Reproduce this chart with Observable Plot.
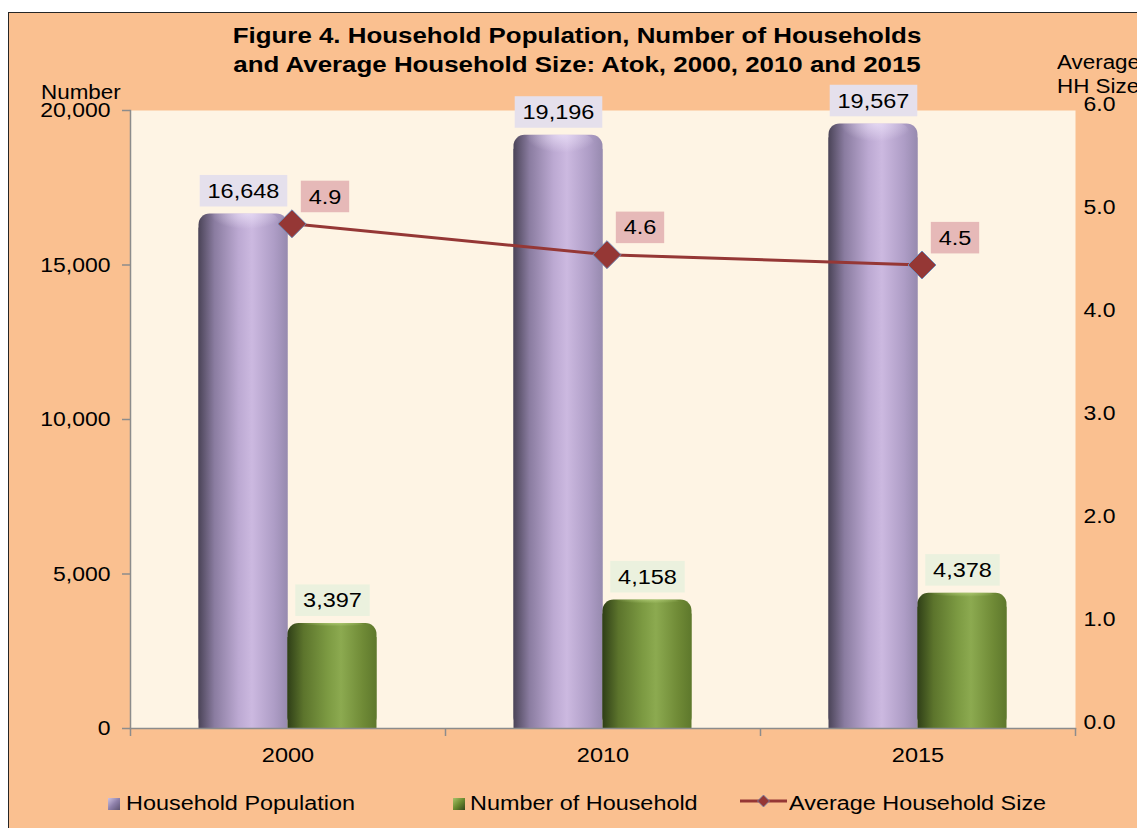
<!DOCTYPE html>
<html>
<head>
<meta charset="utf-8">
<script src="https://cdn.jsdelivr.net/npm/d3@7"></script>
<script src="https://cdn.jsdelivr.net/npm/@observablehq/plot@0.6"></script>
<style>
  html, body { margin: 0; padding: 0; }
  body { width: 1137px; height: 828px; overflow: hidden; position: relative; background: #ffffff;
         font-family: "Liberation Sans", Arial, sans-serif; color: #000; }
  #frame { position: absolute; left: 8px; top: 12px; width: 1140px; height: 830px;
           background: #FAC090; border: 1px solid #262626; box-sizing: border-box; }
  .t { position: absolute; white-space: nowrap; color: #000; transform-origin: 0 0; }
  #title { left: 0; width: 1154px; top: 21px; text-align: center; font-weight: bold; font-size: 22.5px;
           line-height: 29px; transform-origin: 577px 0; }
  #chart { position: absolute; left: 0; top: 0; }
  .leg { position: absolute; top: 793px; font-size: 20px; line-height: 20px; white-space: nowrap; }
  .sw { position: absolute; width: 12px; height: 12px; }
</style>
</head>
<body>
<div id="frame"></div>
<div class="t" id="title">Figure 4. Household Population, Number of Households<br>and Average Household Size: Atok, 2000, 2010 and 2015</div>
<div class="t" id="lblLeft" style="left:41px; top:82px; font-size:20px; line-height:20px;">Number</div>
<div class="t" id="lblRight1" style="left:1057px; top:52px; font-size:20px; line-height:20px;">Average</div>
<div class="t" id="lblRight2" style="left:1057px; top:76px; font-size:20px; line-height:20px;">HH Size</div>
<div id="chart"></div>
<div id="legend"></div>
<script>
// ---- data ----
const years = ["2000", "2010", "2015"];
const householdPopulation = [16648, 19196, 19567];
const numberOfHouseholds = [3397, 4158, 4378];
const averageHouseholdSize = [4.9, 4.6, 4.5];
const leftTickValues = [0, 5000, 10000, 15000, 20000];
const rightTickValues = [0, 1, 2, 3, 4, 5, 6];
const leftMax = 20000;
const rightMax = 6;
const seriesNames = ["Household Population", "Number of Household", "Average Household Size"];

// ---- tables built from the arrays ----
const pop = years.map((year, i) => ({year, value: householdPopulation[i]}));
const hh = years.map((year, i) => ({year, value: numberOfHouseholds[i]}));
const avg = years.map((year, i) => ({year, value: averageHouseholdSize[i], scaled: averageHouseholdSize[i] * leftMax / rightMax}));

const STRETCH = 1.12;
const fmt = d3.format(",");
const BAND = 315; // px width of each year band (945 / 3)
const BAR = 89;

const plot = Plot.plot({
  width: 1137,
  height: 828,
  marginLeft: 130,
  marginRight: 62,
  marginTop: 110,
  marginBottom: 100,
  style: {background: "transparent", fontFamily: "'Liberation Sans', Arial, sans-serif", fontSize: "20.5px", color: "#000", overflow: "visible"},
  x: {domain: years, padding: 0, axis: null},
  y: {domain: [0, leftMax], axis: null},
  marks: [
    Plot.frame({fill: "#FEF4E4", stroke: null}),
    // purple cylinders
    Plot.barY(pop, {x: "year", y: "value", fill: "url(#gPurple)", insetLeft: BAND / 2 - BAR, insetRight: BAND / 2, rx: 11}),
    Plot.barY(pop, {x: "year", y: "value", fill: "url(#gPurple)", insetLeft: BAND / 2 - BAR, insetRight: BAND / 2, insetTop: 14}),
    // green cylinders
    Plot.barY(hh, {x: "year", y: "value", fill: "url(#gGreen)", insetLeft: BAND / 2, insetRight: BAND / 2 - BAR, rx: 11}),
    Plot.barY(hh, {x: "year", y: "value", fill: "url(#gGreen)", insetLeft: BAND / 2, insetRight: BAND / 2 - BAR, insetTop: 14}),
    // soft highlight on the cylinder tops
    Plot.barY(pop, {x: "year", y: "value", fill: "url(#gTop)", insetLeft: BAND / 2 - BAR + 8, insetRight: BAND / 2 + 8, rx: 11, fillOpacity: 0.9}),
    Plot.barY(hh, {x: "year", y: "value", fill: "url(#gTopG)", insetLeft: BAND / 2 + 8, insetRight: BAND / 2 - BAR + 8, rx: 11, fillOpacity: 0.9}),
    // axis lines
    Plot.frame({anchor: "left", stroke: "#8C8C8C", strokeWidth: 1.5}),
    Plot.frame({anchor: "bottom", stroke: "#8C8C8C", strokeWidth: 1.5}),
    // left axis
    Plot.axisY({ticks: leftTickValues, tickFormat: fmt, tickSize: 8, tickPadding: 12, stroke: "#8C8C8C", strokeWidth: 1.5, label: null, fontSize: 20.5}),
    // right axis (secondary scale 0–6 drawn on the same y)
    Plot.axisY({anchor: "right", ticks: rightTickValues.map(v => v * leftMax / rightMax),
                tickFormat: d => (d * rightMax / leftMax).toFixed(1), tickSize: 0, tickPadding: 8, dy: -6, label: null, fontSize: 20.5}),
    // x axis labels and boundary ticks
    Plot.axisX({tickSize: 0, tickPadding: 19, label: null, fontSize: 21}),
    Plot.axisX({tickSize: 8, tickFormat: () => "", dx: -BAND / 2, stroke: "#8C8C8C", strokeWidth: 1.5, label: null}),
    Plot.axisX(["2015"], {tickSize: 8, tickFormat: () => "", dx: BAND / 2, stroke: "#8C8C8C", strokeWidth: 1.5, label: null}),
    // average household size line
    Plot.line(avg, {x: "year", y: "scaled", stroke: "#953735", strokeWidth: 3, dx: 4}),
    Plot.dot(avg, {x: "year", y: "scaled", symbol: "diamond2", r: 12.6, fill: "#953735", stroke: "#7189B5", strokeWidth: 1, dx: 4}),
    // labels
    Plot.text(pop, {x: "year", y: "value", text: d => fmt(d.value), dx: -BAR / 2, dy: -23, fontSize: 21, fill: "#000"}),
    Plot.text(hh, {x: "year", y: "value", text: d => fmt(d.value), dx: BAR / 2, dy: -23, fontSize: 21, fill: "#000"}),
    Plot.text(avg, {x: "year", y: "scaled", text: d => d.value.toFixed(1), dx: 37, dy: -27, fontSize: 21, fill: "#000"})
  ]
});

document.getElementById("chart").append(plot);

// gradient definitions for the cylinder look
const svg = d3.select(plot);
const defs = svg.insert("defs", ":first-child");
function grad(id, stops) {
  const g = defs.append("linearGradient").attr("id", id)
    .attr("x1", 0).attr("x2", 1).attr("y1", 0).attr("y2", 0);
  stops.forEach(([o, c]) => g.append("stop").attr("offset", o).attr("stop-color", c));
}
grad("gPurple", [[0, "#4B4458"], [0.18, "#8A7CA0"], [0.45, "#BCA9D2"], [0.6, "#CCB9E0"], [0.85, "#AE9DC6"], [1, "#978AAF"]]);
grad("gGreen", [[0, "#2F3F17"], [0.18, "#5C742C"], [0.45, "#7C9A42"], [0.6, "#8CAA50"], [0.85, "#6F8A36"], [1, "#5E782C"]]);
function topGrad(id, color) {
  const g = defs.append("radialGradient").attr("id", id).attr("cx", 0.55).attr("cy", 0).attr("r", 0.5)
    .attr("gradientTransform", "scale(1,0.06)");
  g.append("stop").attr("offset", 0).attr("stop-color", color).attr("stop-opacity", 0.8);
  g.append("stop").attr("offset", 1).attr("stop-color", color).attr("stop-opacity", 0);
}
topGrad("gTop", "#EEE4FA");
topGrad("gTopG", "#B5D07A");

// horizontal stretch of all svg text (the reference font is drawn wide)
svg.selectAll("text").each(function() {
  const x = +this.getAttribute("x") || 0, y = +this.getAttribute("y") || 0;
  const tr = this.getAttribute("transform") || "";
  this.setAttribute("transform", `${tr} translate(${x},${y}) scale(${STRETCH},1) translate(${-x},${-y})`);
});

// label boxes behind the three text marks (in mark order)
const textGroups = svg.selectAll('g[aria-label="text"]').nodes();
const boxColors = ["#E5E0EC", "#EBF1DE", "#E6B9B8"];
textGroups.forEach((g, gi) => {
  d3.select(g).selectAll("text").each(function() {
    const b = this.getBBox();
    const padX = 7, padY = 4;
    const r = document.createElementNS("http://www.w3.org/2000/svg", "rect");
    r.setAttribute("x", b.x - padX);
    r.setAttribute("y", b.y - padY);
    r.setAttribute("width", b.width + 2 * padX);
    r.setAttribute("height", b.height + 2 * padY);
    r.setAttribute("fill", boxColors[gi]);
    r.setAttribute("stroke", "none");
    const tr = this.getAttribute("transform");
    if (tr) r.setAttribute("transform", tr);
    this.parentNode.insertBefore(r, this);
  });
});

// stretch html texts
["lblLeft", "lblRight1", "lblRight2"].forEach(id => {
  document.getElementById(id).style.transform = `scaleX(${STRETCH})`;
});
document.getElementById("title").style.transform = `scaleX(1.15)`;

// legend
const legend = document.getElementById("legend");
const items = [
  {name: seriesNames[0], sw: "linear-gradient(135deg,#CFC3E2 0%,#8E80AA 50%,#5E5472 100%)", x: 108, tx: 126},
  {name: seriesNames[1], sw: "linear-gradient(135deg,#A8C46A 0%,#6A8A30 50%,#34471A 100%)", x: 453, tx: 470},
  {name: seriesNames[2], line: true, x: 740, tx: 789}
];
items.forEach(it => {
  if (it.line) {
    const s = document.createElementNS("http://www.w3.org/2000/svg", "svg");
    s.setAttribute("width", 48); s.setAttribute("height", 16);
    s.style.position = "absolute"; s.style.left = it.x + "px"; s.style.top = "793px";
    s.innerHTML = '<line x1="0" y1="8" x2="47" y2="8" stroke="#953735" stroke-width="3"/><path d="M23.5 2 L29.5 8 L23.5 14 L17.5 8 Z" fill="#953735" stroke="#7189B5" stroke-width="0.8"/>';
    legend.append(s);
  } else {
    const d = document.createElement("div");
    d.className = "sw"; d.style.left = it.x + "px"; d.style.top = "798px"; d.style.background = it.sw;
    legend.append(d);
  }
  const t = document.createElement("div");
  t.className = "leg"; t.textContent = it.name; t.style.left = it.tx + "px";
  t.style.transformOrigin = "0 0"; t.style.transform = `scaleX(1.17)`;
  legend.append(t);
});
</script>
</body>
</html>
